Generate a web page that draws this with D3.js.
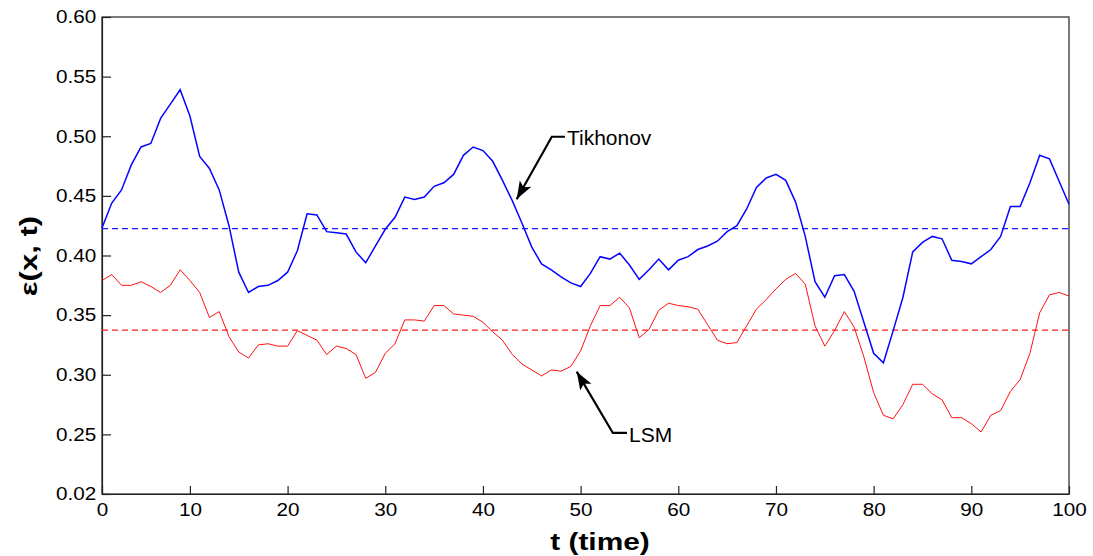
<!DOCTYPE html>
<html>
<head>
<meta charset="utf-8">
<script src="https://cdn.jsdelivr.net/npm/d3@7"></script>
<style>
  body { margin: 0; background: #fff; }
  svg { display: block; font-family: "Liberation Sans", Arial, sans-serif; }
</style>
</head>
<body>
<svg width="1093" height="556"></svg>
<script>
// time steps 1..100 (first tick is labelled "0" in the original)
var tSteps = d3.range(1, 101);

var tikhonov = [
  0.423, 0.444, 0.455, 0.476, 0.491, 0.494, 0.515, 0.527, 0.539, 0.517,
  0.483, 0.473, 0.455, 0.425, 0.386, 0.369, 0.374, 0.375, 0.379, 0.386,
  0.404, 0.435, 0.434, 0.420, 0.419, 0.418, 0.403, 0.394, 0.408, 0.422,
  0.432, 0.449, 0.447, 0.449, 0.458, 0.461, 0.468, 0.484, 0.491, 0.488,
  0.479, 0.463, 0.446, 0.427, 0.407, 0.393, 0.388, 0.382, 0.377, 0.374,
  0.385, 0.399, 0.397, 0.402, 0.392, 0.380, 0.388, 0.397, 0.388, 0.396,
  0.399, 0.405, 0.408, 0.412, 0.420, 0.425, 0.439, 0.457, 0.465, 0.468,
  0.463, 0.445, 0.416, 0.378, 0.365, 0.383, 0.384, 0.370, 0.344, 0.318,
  0.310, 0.337, 0.365, 0.403, 0.411, 0.416, 0.414, 0.396, 0.395, 0.393,
  0.399, 0.405, 0.416, 0.441, 0.441, 0.461, 0.484, 0.481, 0.462, 0.443
];

var lsm = [
  0.379, 0.384, 0.375, 0.375, 0.378, 0.374, 0.369, 0.375, 0.388, 0.379,
  0.369, 0.348, 0.353, 0.332, 0.319, 0.314, 0.325, 0.326, 0.324, 0.324,
  0.337, 0.333, 0.329, 0.317, 0.324, 0.322, 0.317, 0.297, 0.302, 0.318,
  0.326, 0.346, 0.346, 0.345, 0.358, 0.358, 0.351, 0.350, 0.349, 0.344,
  0.336, 0.329, 0.317, 0.309, 0.304, 0.299, 0.304, 0.303, 0.307, 0.320,
  0.341, 0.358, 0.358, 0.365, 0.356, 0.331, 0.338, 0.354, 0.360, 0.358,
  0.357, 0.355, 0.342, 0.329, 0.326, 0.327, 0.341, 0.355, 0.363, 0.372,
  0.380, 0.385, 0.376, 0.341, 0.324, 0.337, 0.353, 0.340, 0.315, 0.285,
  0.266, 0.263, 0.275, 0.292, 0.292, 0.284, 0.279, 0.264, 0.264, 0.259,
  0.252, 0.266, 0.270, 0.286, 0.296, 0.318, 0.352, 0.367, 0.369, 0.366
];

var tikhonovMean = 0.4225;
var lsmMean = 0.3375;

var xTicks = [1, 10, 20, 30, 40, 50, 60, 70, 80, 90, 100];
var xTickLabels = ["0", "10", "20", "30", "40", "50", "60", "70", "80", "90", "100"];
var yTicks = [0.20, 0.25, 0.30, 0.35, 0.40, 0.45, 0.50, 0.55, 0.60];
var yTickLabels = ["0.02", "0.25", "0.30", "0.35", "0.40", "0.45", "0.50", "0.55", "0.60"];

// annotation: label position, knee of the leader, arrow tip (data units)
var notes = [
  { label: "Tikhonov", tx: 48.6, ty: 0.4927, kx: 47.05, ky: 0.4996, px: 43.45, py: 0.4471 },
  { label: "LSM", tx: 54.95, ty: 0.2436, kx: 53.3, ky: 0.2512, px: 49.6, py: 0.3026 }
];

var svg = d3.select("svg"),
    margin = { top: 17, right: 24, bottom: 62, left: 102 },
    width = +svg.attr("width") - margin.left - margin.right,
    height = +svg.attr("height") - margin.top - margin.bottom;

var g = svg.append("g").attr("transform", "translate(" + margin.left + "," + margin.top + ")");

var x = d3.scaleLinear().domain([1, 100]).range([0, width]);
var y = d3.scaleLinear().domain([0.2, 0.6]).range([height, 0]);

// box
g.append("rect")
    .attr("width", width).attr("height", height)
    .attr("fill", "none").attr("stroke", "#222").attr("stroke-width", 1.2);

var xAxis = g.append("g")
    .attr("transform", "translate(0," + height + ")")
    .call(d3.axisBottom(x).tickValues(xTicks)
        .tickFormat(function (d, i) { return xTickLabels[i]; })
        .tickSizeInner(-8).tickSizeOuter(0).tickPadding(9));

var yAxis = g.append("g")
    .call(d3.axisLeft(y).tickValues(yTicks)
        .tickFormat(function (d, i) { return yTickLabels[i]; })
        .tickSizeInner(-9).tickSizeOuter(0).tickPadding(5));

[xAxis, yAxis].forEach(function (a) {
    a.select(".domain").attr("stroke", "#222").attr("stroke-width", 1.2);
    a.selectAll(".tick line").attr("stroke", "#222").attr("stroke-width", 1.2);
    a.selectAll(".tick text")
        .attr("fill", "#000")
        .style("font-size", "18px")
        .style("font-family", "Liberation Sans, Arial, sans-serif")
        .attr("transform", "scale(1.15,1)");
});

// mean lines
g.append("line")
    .attr("x1", 0).attr("x2", width)
    .attr("y1", y(tikhonovMean)).attr("y2", y(tikhonovMean))
    .attr("stroke", "#1a1aff").attr("stroke-width", 1.3).attr("stroke-dasharray", "6,4");
g.append("line")
    .attr("x1", 0).attr("x2", width)
    .attr("y1", y(lsmMean)).attr("y2", y(lsmMean))
    .attr("stroke", "#ff1a1a").attr("stroke-width", 1.3).attr("stroke-dasharray", "6,4");

var line = d3.line()
    .x(function (d, i) { return x(tSteps[i]); })
    .y(function (d) { return y(d); });

g.append("path").datum(lsm)
    .attr("fill", "none").attr("stroke", "#ff1010").attr("stroke-width", 1)
    .attr("d", line);

g.append("path").datum(tikhonov)
    .attr("fill", "none").attr("stroke", "#0505ff").attr("stroke-width", 1.5)
    .attr("d", line);

// arrow annotations
svg.append("defs").append("marker")
    .attr("id", "head")
    .attr("markerUnits", "userSpaceOnUse")
    .attr("markerWidth", 20).attr("markerHeight", 14)
    .attr("refX", 18).attr("refY", 6.5)
    .attr("orient", "auto")
    .append("path").attr("d", "M0,0 L18,6.5 L0,13 L4,6.5 Z").attr("fill", "#000");

notes.forEach(function (n) {
    var tx = x(n.tx), kx = x(n.kx), ky = y(n.ky);
    g.append("path")
        .attr("d", "M" + (tx - 2) + "," + ky + " L" + kx + "," + ky + " L" + x(n.px) + "," + y(n.py))
        .attr("fill", "none").attr("stroke", "#000").attr("stroke-width", 2.2)
        .attr("marker-end", "url(#head)");
    g.append("text")
        .attr("x", tx).attr("y", y(n.ty))
        .style("font-size", "21px")
        .text(n.label);
});

// axis titles
svg.append("text")
    .attr("transform", "translate(600,550) scale(1.3,1)")
    .attr("text-anchor", "middle")
    .style("font-size", "23px").style("font-weight", "bold")
    .text("t (time)");

svg.append("text")
    .attr("transform", "translate(37," + (margin.top + 239) + ") rotate(-90) scale(1.35,1)")
    .attr("text-anchor", "middle")
    .style("font-size", "23px").style("font-weight", "bold")
    .text("ε(x, t)");
</script>
</body>
</html>
